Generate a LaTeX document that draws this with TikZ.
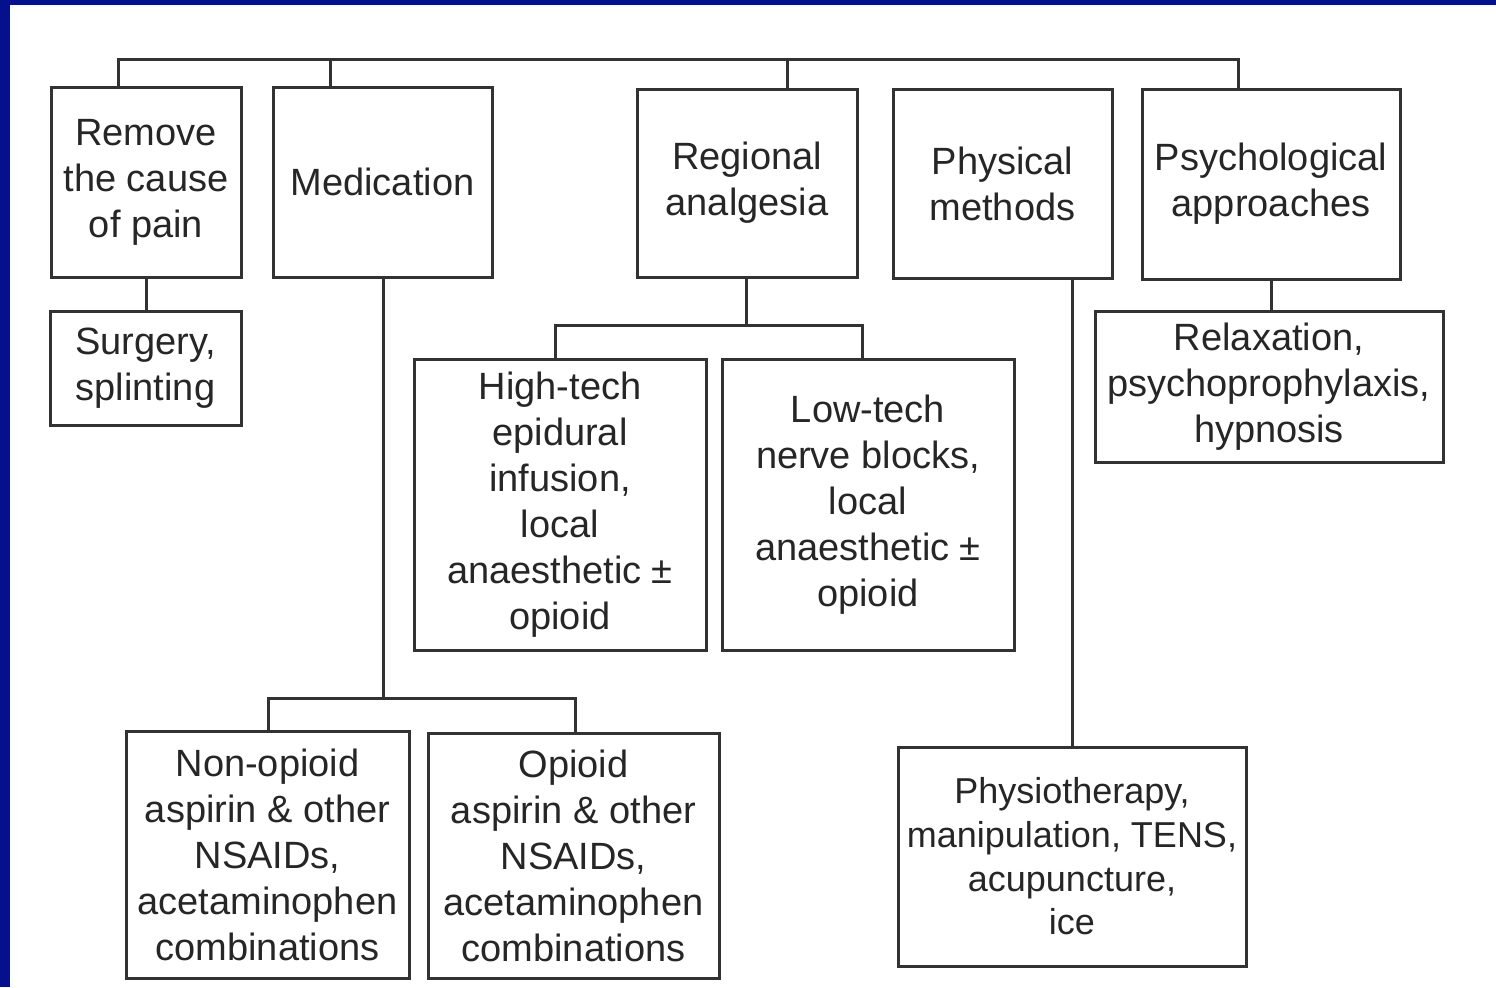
\documentclass[tikz,border=0pt]{standalone}
\usepackage{fontspec}
\setmainfont{Liberation Sans}
\definecolor{frameblue}{RGB}{4,16,140}
\definecolor{ink}{RGB}{38,38,38}
\definecolor{lineink}{RGB}{50,50,50}
\tikzset{
  box/.style n args={2}{draw=lineink, line width=1.5pt, inner sep=0pt, align=center, text=ink,
    minimum width=0.5pt*#1, minimum height=0.5pt*#2,
    font=\fontsize{19}{23}\selectfont},
  smallfont/.style={font=\fontsize{18}{21.8}\selectfont},
  conn/.style={draw=lineink, line width=1.5pt}
}
\begin{document}
\begin{tikzpicture}[x=0.5pt,y=-0.5pt]
\useasboundingbox (0,0) rectangle (1496,987);
\fill[white] (0,0) rectangle (1496,987);
\fill[frameblue] (0,0) rectangle (10,987);
\fill[frameblue] (0,0) rectangle (1496,5);

% top row
\node[box={190}{190}] (cause) at (146,182) {Remove\\the cause\\of pain};
\node[box={219}{190}] (med) at (382.5,182) {Medication};
\node[box={220}{188}] (reg) at (747,183) {Regional\\analgesia};
\node[box={219}{189}] (phys) at (1002.5,183.5) {Physical\\methods};
\node[box={258}{190}] (psych) at (1271,184) {Psychological\\approaches};

% second level
\node[box={191}{114}] (surg) at (145.5,368) {Surgery,\\splinting};
\node[box={292}{291}] (high) at (560,504.5) {High-tech\\epidural\\infusion,\\local\\anaesthetic ±\\opioid};
\node[box={292}{291}] (low) at (868,504.5) {Low-tech\\nerve blocks,\\local\\anaesthetic ±\\opioid};
\node[box={348}{151}] (relax) at (1269,386.5) {Relaxation,\\psychoprophylaxis,\\hypnosis};

% bottom row
\node[box={283}{247}] (nonop) at (267.5,854.5) {Non-opioid\\aspirin \& other\\NSAIDs,\\acetaminophen\\combinations};
\node[box={291}{245}] (opi) at (573.5,855.5) {Opioid\\aspirin \& other\\NSAIDs,\\acetaminophen\\combinations};
\node[box={348}{219}, smallfont] (physio) at (1072,856.5) {Physiotherapy,\\manipulation, TENS,\\acupuncture,\\ice};

% top bus
\coordinate (b1) at (118,59);
\coordinate (b2) at (330,59);
\coordinate (b3) at (787,59);
\coordinate (b4) at (1238,59);
\draw[conn] (cause.north -| b1) -- (b1) -- (b4) -- (psych.north -| b4);
\draw[conn] (b2) -- (med.north -| b2);
\draw[conn] (b3) -- (reg.north -| b3);

% cause -> surgery
\draw[conn] (cause.south) -- (cause.south |- surg.north);

% medication -> opioids
\coordinate (m) at (383,698);
\coordinate (mL) at (268,698);
\coordinate (mR) at (575,698);
\draw[conn] (med.south -| m) -- (m);
\draw[conn] (nonop.north -| mL) -- (mL) -- (mR) -- (opi.north -| mR);

% regional -> high/low tech
\coordinate (r) at (746,325);
\coordinate (rL) at (555,325);
\coordinate (rR) at (862,325);
\draw[conn] (reg.south -| r) -- (r);
\draw[conn] (high.north -| rL) -- (rL) -- (rR) -- (low.north -| rR);

% physical -> physiotherapy
\draw[conn] (phys.south -| physio.north) -- (physio.north);

% psychological -> relaxation
\draw[conn] (psych.south) -- (psych.south |- relax.north);
\end{tikzpicture}
\end{document}
